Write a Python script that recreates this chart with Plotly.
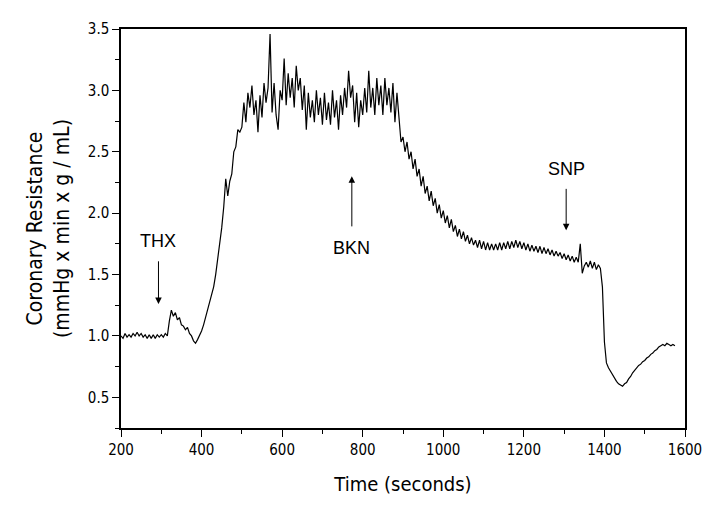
import plotly.graph_objects as go

seg_baseline_start = 200
seg_baseline = [1.00, 0.98, 1.02, 0.99, 1.01, 0.99, 1.02, 1.00, 1.03, 1.00, 1.02, 0.99,
                1.01, 0.98, 1.01, 0.98, 1.01, 0.98, 1.01, 0.99, 1.01, 0.99, 1.02, 1.00]

seg_thx_start = 320
seg_thx = [1.12, 1.21, 1.16, 1.19, 1.13, 1.15, 1.09, 1.08, 1.05, 1.07, 1.02, 1.00,
           0.96, 0.94, 0.97, 1.00]

seg_rise_start = 400
seg_rise = [1.04, 1.09, 1.15, 1.22, 1.28, 1.33, 1.40, 1.50, 1.63, 1.72, 1.88, 2.05,
            2.28, 2.14, 2.26, 2.32, 2.50, 2.54, 2.68, 2.66]

seg_plateau_start = 500
seg_plateau = [2.70, 2.90, 2.74, 2.98, 2.86, 3.04, 2.80, 2.92, 2.66, 2.96, 2.78, 3.06,
               2.90, 3.02, 3.46, 2.82, 3.06, 2.80, 2.68, 3.00, 2.92, 3.26, 2.88, 3.14,
               2.94, 3.10, 2.86, 3.20, 3.00, 3.10, 2.84, 3.04, 2.68, 2.98, 2.78, 2.92,
               2.74, 3.00, 2.80, 2.94, 2.72, 2.98, 2.76, 2.90, 2.72, 3.00, 2.78, 2.92,
               2.68, 2.96, 2.80, 3.02, 2.86, 3.16, 2.94, 3.04, 2.74, 2.98, 2.70, 2.92,
               2.80, 3.02, 2.82, 3.16, 2.86, 3.02, 2.80, 3.10, 2.88, 3.04, 2.80, 3.10,
               2.88, 3.02, 2.82, 3.06, 2.74, 2.98]

seg_decline_start = 890
seg_decline = [2.80, 2.58, 2.62, 2.50, 2.58, 2.44, 2.50, 2.36, 2.44, 2.30, 2.36, 2.22,
               2.30, 2.16, 2.22, 2.10, 2.18, 2.06, 2.12, 2.00, 2.07, 1.96, 2.02, 1.92,
               1.98, 1.88, 1.95, 1.85, 1.90, 1.81, 1.87, 1.79, 1.85, 1.77, 1.82, 1.75,
               1.80, 1.74, 1.78, 1.72, 1.78, 1.71, 1.77, 1.70, 1.76, 1.70, 1.75, 1.70]

seg_steady_start = 1130
seg_steady = [1.75, 1.70, 1.76, 1.70, 1.76, 1.71, 1.77, 1.71, 1.77, 1.72, 1.78, 1.72,
              1.77, 1.71, 1.76, 1.70, 1.75, 1.69, 1.74, 1.69, 1.73, 1.68, 1.73, 1.67,
              1.72, 1.67, 1.71, 1.66, 1.70, 1.65, 1.69, 1.65, 1.68, 1.63, 1.67, 1.62,
              1.66, 1.61, 1.65, 1.60, 1.64, 1.60, 1.75, 1.51, 1.57, 1.60, 1.56, 1.61,
              1.55, 1.60, 1.54, 1.58, 1.55]

seg_snp_start = 1395
seg_snp = [1.40, 0.95, 0.78, 0.74, 0.71, 0.68, 0.65, 0.63, 0.61, 0.60, 0.59, 0.61,
           0.62, 0.65, 0.67, 0.70, 0.72, 0.74, 0.76, 0.77, 0.79, 0.80, 0.82, 0.83,
           0.85, 0.86, 0.88, 0.89, 0.91, 0.92, 0.93, 0.92, 0.94, 0.93, 0.92, 0.93, 0.92]

segments = [
    (seg_baseline_start, seg_baseline),
    (seg_thx_start, seg_thx),
    (seg_rise_start, seg_rise),
    (seg_plateau_start, seg_plateau),
    (seg_decline_start, seg_decline),
    (seg_steady_start, seg_steady),
    (seg_snp_start, seg_snp),
]
step_s = 5
time_s, resistance = [], []
for start, vals in segments:
    time_s += [start + step_s * i for i in range(len(vals))]
    resistance += vals

# markers: label, time, text y, arrow tail y, arrow head y
marker_labels = ["THX", "BKN", "SNP"]
marker_times = [293, 773, 1305]
marker_text_y = [1.77, 1.72, 2.36]
marker_tail_y = [1.62, 1.88, 2.21]
marker_head_y = [1.26, 2.30, 1.86]

x_ticks = [200, 400, 600, 800, 1000, 1200, 1400, 1600]
y_ticks = [0.5, 1.0, 1.5, 2.0, 2.5, 3.0, 3.5]

axis_font = "DejaVu Sans Condensed"

fig = go.Figure()
fig.add_trace(go.Scatter(x=time_s, y=resistance, mode="lines",
                         line=dict(color="black", width=1.2), showlegend=False,
                         hoverinfo="skip"))

for lab, t, ty, tail, head in zip(marker_labels, marker_times, marker_text_y,
                                  marker_tail_y, marker_head_y):
    fig.add_annotation(x=t, y=ty, text=lab, showarrow=False,
                       font=dict(family="Liberation Sans", size=18, color="black"))
    fig.add_annotation(x=t, y=head, ax=t, ay=tail, axref="x", ayref="y",
                       text="", showarrow=True, arrowhead=2, arrowsize=1.3,
                       arrowwidth=1, arrowcolor="black")

fig.update_layout(
    width=706, height=505,
    margin=dict(l=113, r=22, t=12, b=85),
    paper_bgcolor="white", plot_bgcolor="white",
    font=dict(family=axis_font, color="black"),
    xaxis=dict(range=[200, 1600], tickvals=x_ticks,
               ticktext=[str(v) for v in x_ticks],
               ticks="outside", ticklen=7, tickwidth=1, tickcolor="black",
               minor=dict(dtick=100, ticks="outside", ticklen=4, tickcolor="black"),
               showline=True, linecolor="black", linewidth=1.5, mirror=True,
               showgrid=False, zeroline=False,
               tickfont=dict(family=axis_font, size=15),
               title=dict(text="Time (seconds)", font=dict(family=axis_font, size=20),
                          standoff=19)),
    yaxis=dict(range=[0.25, 3.5], tickvals=y_ticks,
               ticktext=[f"{v:.1f}" for v in y_ticks],
               ticks="outside", ticklen=7, tickwidth=1, tickcolor="black",
               minor=dict(dtick=0.25, tick0=0.25, ticks="outside", ticklen=4,
                          tickcolor="black"),
               showline=True, linecolor="black", linewidth=1.5, mirror=True,
               showgrid=False, zeroline=False,
               tickfont=dict(family=axis_font, size=15),
               title=dict(text="Coronary Resistance<br>(mmHg x min x g / mL)",
                          font=dict(family=axis_font, size=21), standoff=12)),
)

fig.write_html("out.html")
